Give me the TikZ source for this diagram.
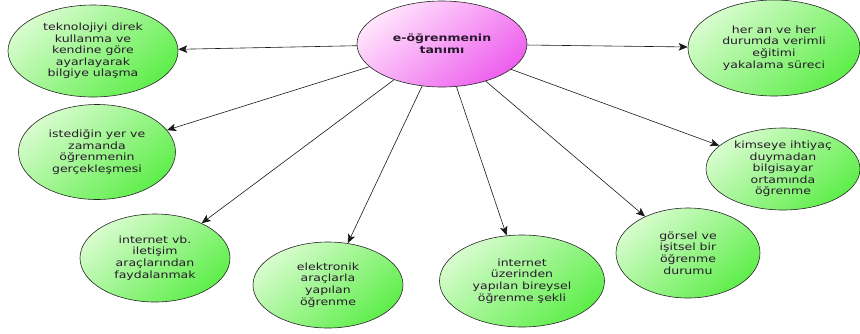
\documentclass[tikz,border=0pt]{standalone}
\usepackage{fontspec}
\setmainfont{DejaVu Sans}[FakeStretch=1.25]
\usetikzlibrary{shapes.geometric, arrows.meta}
\definecolor{leaflight}{RGB}{215,252,205}
\definecolor{leafdark}{RGB}{95,238,75}
\definecolor{rootlight}{RGB}{255,228,252}
\definecolor{rootdark}{RGB}{238,95,238}
\definecolor{inktext}{RGB}{40,25,45}
\begin{document}
\begin{tikzpicture}[x=1pt, y=-1pt,
	leaf/.style={ellipse, draw=black!85, line width=0.6pt, top color=leaflight, bottom color=leafdark, shading angle=40,
		align=center, text=inktext, inner sep=0pt, font=\fontsize{10}{11.6}\selectfont},
	root/.style={ellipse, draw=black!85, line width=0.6pt, top color=rootlight, bottom color=rootdark, shading angle=40,
		align=center, text=inktext, inner sep=0pt, font=\bfseries\fontsize{10}{12}\selectfont},
	link/.style={draw=black!90, -{Stealth[length=9pt, width=7.5pt, inset=2pt]}, line width=0.6pt}]
		\useasboundingbox (0,0) rectangle (860,333);
		% centre
		\node[root, minimum width=170pt, minimum height=86pt] (tanim) at (442,44) {e-öğrenmenin\\tanımı};
		% leaves
		\node[leaf, minimum width=170pt, minimum height=92pt] (teknoloji) at (93,51) {teknolojiyi direk\\kullanma ve\\kendine göre\\ayarlayarak\\bilgiye ulaşma};
		\node[leaf, minimum width=172pt, minimum height=96pt] (heran) at (774,48) {her an ve her\\durumda verimli\\eğitimi\\yakalama süreci};
		\node[leaf, minimum width=157pt, minimum height=95pt] (istedigin) at (97,152) {istediğin yer ve\\zamanda\\öğrenmenin\\gerçekleşmesi};
		\node[leaf, minimum width=154pt, minimum height=82pt] (kimseye) at (783,169) {kimseye ihtiyaç\\duymadan\\bilgisayar\\ortamında\\öğrenme};
		\node[leaf, minimum width=150pt, minimum height=88pt] (iletisim) at (155,258) {internet vb.\\iletişim\\araçlarından\\faydalanmak};
		\node[leaf, minimum width=150pt, minimum height=86pt] (elektronik) at (328,285) {elektronik\\araçlarla\\yapılan\\öğrenme};
		\node[leaf, minimum width=165pt, minimum height=92pt] (bireysel) at (522,281) {internet\\üzerinden\\yapılan bireysel\\öğrenme şekli};
		\node[leaf, minimum width=144pt, minimum height=90pt] (gorsel) at (688,253) {görsel ve\\işitsel bir\\öğrenme\\durumu};
		% connectors
		\draw[link] (tanim) -- (teknoloji);
		\draw[link] (tanim) -- (heran);
		\draw[link] (tanim) -- (istedigin);
		\draw[link] (tanim) -- (kimseye);
		\draw[link] (tanim) -- (iletisim);
		\draw[link] (tanim) -- (elektronik);
		\draw[link] (tanim) -- (bireysel);
		\draw[link] (tanim) -- (gorsel);
	\end{tikzpicture}
\end{document}
